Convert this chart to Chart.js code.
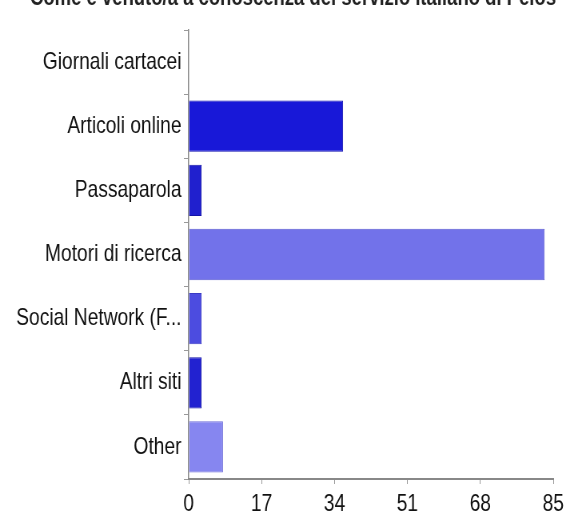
<!DOCTYPE html>
<html>
<head>
<meta charset="utf-8">
<script src="https://cdn.jsdelivr.net/npm/chart.js@4/dist/chart.umd.min.js"></script>
<style>
  html, body { margin: 0; padding: 0; background: #fff; }
  #wrap { position: relative; width: 566px; height: 512px; overflow: hidden; }
  #chart { display: block; }
</style>
</head>
<body>
<!-- drawn on a wider canvas and squeezed to get the narrow lettering -->
<div id="wrap"><canvas id="chart" width="708" height="512" style="width:566px;height:512px"></canvas></div>
<script>
'use strict';

// Survey answers: how people found the service
const TITLE = 'Come è venuto/a a conoscenza del servizio italiano di Pelos';
const categories = [
  'Giornali cartacei',
  'Articoli online',
  'Passaparola',
  'Motori di ricerca',
  'Social Network (F...',
  'Altri siti',
  'Other',
];
const responses = [0, 36, 3, 83, 3, 3, 8];
const barColors = ['#1818d8', '#1818d8', '#2020ce', '#7272ea', '#4c4ce0', '#2222d0', '#8686f0'];
const barEdges = ['#1010b0', '#1010b0', '#1414a8', '#5a5ad0', '#3a3ac4', '#1414a8', '#6c6cd8'];
const xTicks = [0, 17, 34, 51, 68, 85];

const FONT = '"Liberation Sans", Arial, Helvetica, sans-serif';
const SQUEEZE = 566 / 708; // css px per canvas px, horizontally

// Question text sits at the very top edge, mostly cut off
const topTitle = {
  id: 'topTitle',
  afterDraw(chart) {
    const ctx = chart.ctx;
    ctx.save();
    ctx.font = `bold 24px ${FONT}`;
    ctx.fillStyle = '#222';
    ctx.textAlign = 'left';
    ctx.textBaseline = 'alphabetic';
    ctx.fillText(TITLE, 30 / SQUEEZE, 5, 526 / SQUEEZE);
    ctx.restore();
  },
};

new Chart(document.getElementById('chart'), {
  type: 'bar',
  data: {
    labels: categories,
    datasets: [{
      data: responses,
      backgroundColor: barColors,
      borderColor: barEdges,
      borderWidth: 1,
      barPercentage: 0.8,
      categoryPercentage: 1,
    }],
  },
  options: {
    indexAxis: 'y',
    responsive: false,
    animation: false,
    layout: { padding: { top: 30, right: 0, left: 0, bottom: 0 } },
    plugins: {
      legend: { display: false },
      tooltip: { enabled: false },
    },
    scales: {
      x: {
        min: 0,
        max: 85,
        afterBuildTicks: (scale) => {
          scale.ticks = xTicks.map((v) => ({ value: v }));
        },
        afterFit: (scale) => {
          scale.height = 33;
          scale.paddingRight = 16; // room for the "85" label only
        },
        grid: { drawOnChartArea: false, tickLength: 5, color: '#999' },
        border: { color: '#888', width: 2 },
        ticks: {
          color: '#111',
          padding: 6,
          maxRotation: 0,
          font: { family: FONT, size: 24 },
        },
      },
      y: {
        afterFit: (scale) => { scale.width = 236; },
        grid: { drawOnChartArea: false, tickLength: 6, color: '#999' },
        border: { color: '#888', width: 1.5 },
        ticks: {
          color: '#111',
          padding: 3,
          font: { family: FONT, size: 24 },
        },
      },
    },
  },
  plugins: [topTitle],
});
</script>
</body>
</html>
